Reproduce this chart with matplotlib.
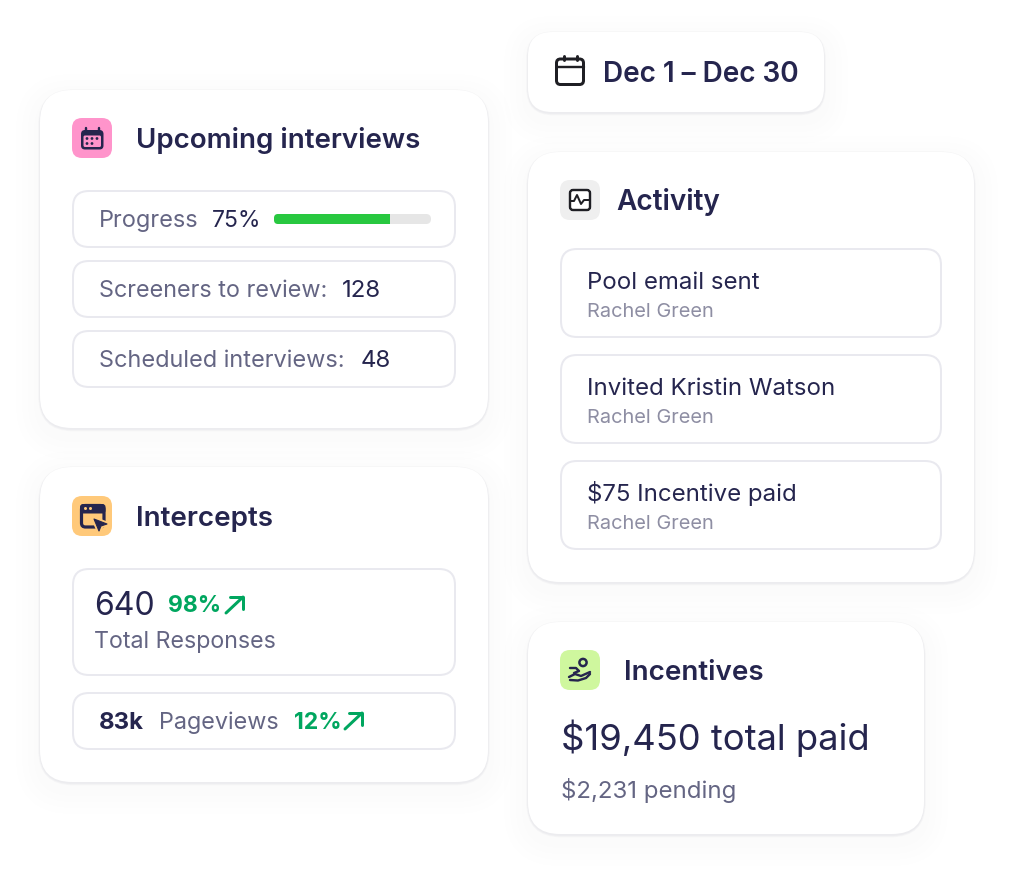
import matplotlib
matplotlib.use('Agg')
import matplotlib.pyplot as plt
from matplotlib.patches import FancyBboxPatch, Circle, Polygon

plt.rcParams['font.family'] = ['Inter', 'DejaVu Sans']

# text and values from the picture
date_range = 'Dec 1 – Dec 30'
progress_label = 'Progress'
progress_text = '75%'
progress_fill = 74
review_label = 'Screeners to review:'
review_value = '128'
scheduled_label = 'Scheduled interviews:'
scheduled_value = '48'
total_responses = '640'
total_change = '98%'
total_label = 'Total Responses'
pageviews = '83k'
pageviews_label = 'Pageviews'
pageviews_change = '12%'
activity_items = ['Pool email sent', 'Invited Kristin Watson', '$75 Incentive paid']
activity_person = ['Rachel Green', 'Rachel Green', 'Rachel Green']
incentives_paid = '$19,450 total paid'
incentives_pending = '$2,231 pending'

NAVY = '#25254e'
GREY = '#646583'
LIGHT = '#8e8ea3'
GREEN = '#00a65f'
BORDER = '#e9e9ef'

fig = plt.figure(figsize=(10.14, 8.82), dpi=100)
ax = fig.add_axes([0, 0, 1, 1])
ax.set_xlim(0, 1014)
ax.set_ylim(882, 0)
ax.axis('off')


def px(size):
    return size * 0.72


def rbox(x0, y0, x1, y1, r, fc='white', ec='none', lw=0, z=2, alpha=None):
    p = FancyBboxPatch((x0, y0), x1 - x0, y1 - y0, boxstyle='round,pad=0,rounding_size=%s' % r,
                       fc=fc, ec=ec, lw=lw * 0.72, zorder=z, alpha=alpha)
    ax.add_patch(p)


def card(x0, y0, x1, y1, r):
    # soft shadow, wide and faint, then a tight one
    for i in range(4, 0, -1):
        grow = i * 6
        rbox(x0 - grow, y0 - grow + 8, x1 + grow, y1 + grow + 8, r + grow, fc='#1c1c3c', z=1, alpha=0.0048)
    for i in range(3, 0, -1):
        rbox(x0 - i * 0.6, y0 - i * 0.6 + 1, x1 + i * 0.6, y1 + i * 0.8 + 1, r + i, fc='#1c1c3c', z=1, alpha=0.02)
    rbox(x0, y0, x1, y1, r)


def inner(x0, y0, x1, y1):
    rbox(x0 + 1, y0 + 1, x1 - 1, y1 - 1, 16, ec=BORDER, lw=2, z=3)


def txt(x, y, s, size, color=NAVY, weight='normal'):
    ax.text(x, y, s, fontsize=px(size), color=color, fontweight=weight, va='baseline', ha='left', zorder=5)


def line(xs, ys, color=NAVY, lw=2.4):
    ax.plot(xs, ys, color=color, lw=lw * 0.72, solid_capstyle='round', solid_joinstyle='round', zorder=6)


def arrow(x0, y0, x1, y1):
    line([x0, x1], [y1, y0], GREEN, 3)
    line([x0 + 4, x1, x1], [y0, y0, y1 - 4], GREEN, 3)


card(40, 90, 488, 428, 32)
card(40, 467, 488, 782, 32)
card(528, 32, 824, 112, 24)
card(528, 152, 974, 582, 32)
card(528, 622, 924, 834, 32)

# date pill
rbox(556.5, 59, 583.5, 84.5, 4, ec='#1f1f24', lw=3, z=6)
line([556.5, 583.5], [67, 67], '#1f1f24', 2.4)
line([563.5, 563.5], [55.5, 60], '#1f1f24', 3)
line([576.5, 576.5], [55.5, 60], '#1f1f24', 3)
txt(603, 82, date_range, 27.9, weight='semibold')

# upcoming interviews
rbox(72, 118, 112, 158, 10, fc='#ff94cb', z=4)
rbox(81, 130, 103.5, 149.5, 4, fc=NAVY, z=5)
line([85.5, 85.5], [127.5, 131], lw=2.4)
line([98.5, 98.5], [127.5, 131], lw=2.4)
rbox(83.5, 135.5, 101, 147, 1.5, fc='#ff94cb', z=6)
for cx, cy in [(87, 138.5), (92, 138.5), (97, 138.5), (87, 143.5), (92, 143.5)]:
    ax.add_patch(Circle((cx, cy), 1.4, fc=NAVY, ec='none', zorder=7))
txt(136, 148, 'Upcoming interviews', 27.7, weight='semibold')

inner(72, 190, 456, 248)
inner(72, 260, 456, 318)
inner(72, 330, 456, 388)
txt(99, 227, progress_label, 23.5, GREY)
txt(212, 227, progress_text, 23)
rbox(274, 214, 431, 224, 5, fc='#e6e6e6', z=5)
bar_left, bar_width = 274, 157
rbox(bar_left, 214, bar_left + 8, 224, 4, fc='#28c840', z=6)
ax.barh(219, bar_width * progress_fill / 100 - 4, height=10, left=bar_left + 4, color='#28c840', zorder=6)
txt(99, 297, review_label, 23.4, GREY)
txt(342, 297, review_value, 24)
txt(99, 367, scheduled_label, 23.5, GREY)
txt(361, 367, scheduled_value, 24)

# intercepts
rbox(72, 496, 112, 536, 10, fc='#ffc97a', z=4)
rbox(81.5, 505.5, 104, 527, 4, fc='none', ec=NAVY, lw=3.2, z=5)
rbox(80, 504, 105.5, 513.5, 3, fc=NAVY, z=5)
ax.add_patch(Circle((85.5, 508.5), 1.5, fc='#ffc97a', ec='none', zorder=6))
ax.add_patch(Circle((90.5, 508.5), 1.5, fc='#ffc97a', ec='none', zorder=6))
ax.add_patch(Polygon([[94, 519], [107, 524], [101, 526], [99, 531]], fc='#ffc97a', ec='#ffc97a', lw=3.5,
                     joinstyle='round', zorder=6))
ax.add_patch(Polygon([[94, 519], [107, 524], [101, 526], [99, 531]], fc=NAVY, ec=NAVY, lw=0.8,
                     joinstyle='round', zorder=7))
txt(136, 526, 'Intercepts', 27.8, weight='semibold')

inner(72, 568, 456, 676)
inner(72, 692, 456, 750)
txt(94, 615, total_responses, 32)
txt(168, 612, total_change, 23, GREEN, 'bold')
arrow(226, 597, 243, 613)
txt(94, 648, total_label, 23.2, GREY)
txt(99, 729, pageviews, 24, weight='bold')
txt(159, 729, pageviews_label, 23.4, GREY)
txt(294, 729, pageviews_change, 23, GREEN, 'bold')
arrow(345, 713, 362, 729)

# activity
rbox(560, 180, 600, 220, 10, fc='#efefef', z=4)
rbox(570, 190, 590, 210, 3, ec='#1f1f24', lw=2.4, z=5)
line([570, 574, 577, 581, 584, 590], [201, 201, 195, 204, 200, 200], '#1f1f24', 2)
txt(616, 210, 'Activity', 28, weight='semibold')
for i in range(len(activity_items)):
    top = 248 + i * 106
    inner(560, top, 942, top + 90)
    txt(587, top + 41, activity_items[i], 24)
    txt(587, top + 69, activity_person[i], 20, LIGHT)

# incentives
rbox(560, 650, 600, 690, 10, fc='#cff79e', z=4)
ax.add_patch(Circle((583, 662.5), 3.6, fc='none', ec=NAVY, lw=1.8, zorder=6))
line([570, 576, 579, 574], [668, 668, 671, 673], lw=2.4)
line([569, 575, 581, 590], [677, 674, 676, 672], lw=2.4)
line([570, 578, 586, 590], [680, 680.5, 678, 674], lw=2.4)
txt(624, 680, 'Incentives', 27.8, weight='semibold')
txt(561, 750, incentives_paid, 36.4)
txt(561, 798, incentives_pending, 24, GREY)

fig.savefig('out.png', dpi=100, facecolor='white')
